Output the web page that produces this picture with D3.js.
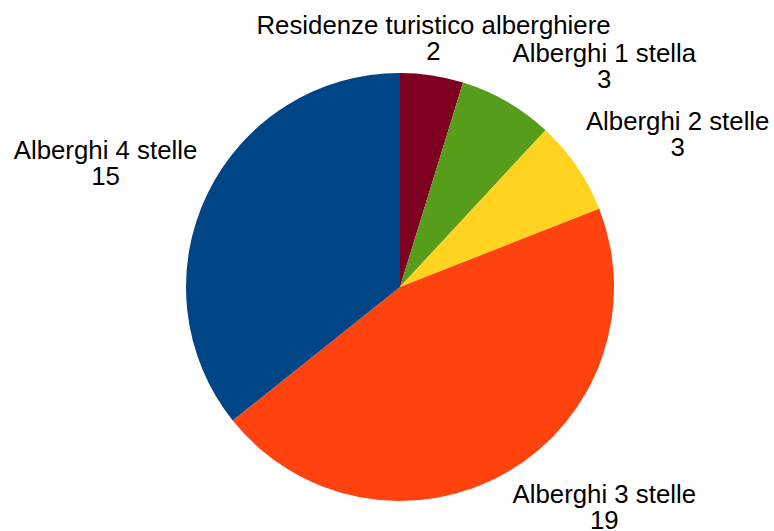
<!DOCTYPE html>
<html>
<head>
<meta charset="utf-8">
<script src="https://cdn.jsdelivr.net/npm/d3@7"></script>
<style>
  html, body { margin: 0; padding: 0; background: #fff; }
  svg { display: block; }
</style>
</head>
<body>
<svg id="chart" width="774" height="531"></svg>
<script>
const categories = ["Residenze turistico alberghiere", "Alberghi 1 stella", "Alberghi 2 stelle", "Alberghi 3 stelle", "Alberghi 4 stelle"];
const values = [2, 3, 3, 19, 15];
const colors = ["#7e0021", "#579d1c", "#ffd320", "#ff420e", "#004586"];

const svg = d3.select("#chart");
const cx = 400, cy = 287, R = 214;
const labelR = R + 11;
const fontSize = 25.8;
const lineH = 26;

const data = categories.map((c, i) => ({ name: c, value: values[i], color: colors[i] }));
const pie = d3.pie().value(d => d.value).sort(null);
const arcs = pie(data);
const arc = d3.arc().innerRadius(0).outerRadius(R);

const g = svg.append("g").attr("transform", `translate(${cx},${cy})`);
g.selectAll("path").data(arcs).enter().append("path")
  .attr("d", arc)
  .attr("fill", d => d.data.color);

g.selectAll("text.lbl").data(arcs).enter().append("text")
  .attr("class", "lbl")
  .style("font-family", "'Liberation Sans', Arial, sans-serif")
  .style("font-size", fontSize + "px")
  .attr("fill", "#000")
  .attr("text-anchor", "middle")
  .each(function(d) {
    const a = (d.startAngle + d.endAngle) / 2;
    const s = Math.sin(a), c = Math.cos(a);
    const px = s * labelR, py = -c * labelR;
    const t = d3.select(this);
    let anchor = "middle";
    if (s > 0.25) anchor = "start";
    else if (s < -0.25) anchor = "end";
    const y1 = c > 0 ? py - 4.5 - lineH : py + 21;
    const tmp = t.append("tspan").text(d.data.name);
    const w = this.getComputedTextLength();
    tmp.remove();
    const bx = anchor === "start" ? px + w / 2 : anchor === "end" ? px - w / 2 : px;
    t.append("tspan").attr("x", bx).attr("y", y1).text(d.data.name);
    t.append("tspan").attr("x", bx).attr("y", y1 + lineH).text(d.data.value);
  });
</script>
</body>
</html>
